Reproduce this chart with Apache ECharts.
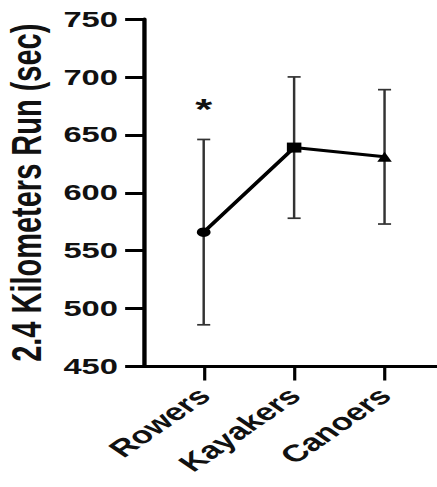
<!DOCTYPE html>
<html>
<head>
<meta charset="utf-8">
<script src="https://cdn.jsdelivr.net/npm/echarts@6/dist/echarts.min.js"></script>
<style>
  html, body { margin: 0; padding: 0; background: #fff; overflow: hidden; }
  /* chart is drawn narrow, then widened to the page width */
  #chart { width: 301px; height: 487px; transform: scaleX(1.4518); transform-origin: 0 0; }
</style>
</head>
<body>
<div id="chart"></div>
<script>
// Groups on the x axis
const groups = ['Rowers', 'Kayakers', 'Canoers'];
// Mean 2.4 km run time (s) per group
const meanTime = [566, 639, 631];
// Standard deviation (s) per group
const sdTime = [80, 61, 58];
// Marker shape per group
const markers = ['circle', 'rect', 'triangle'];
// Significance flag drawn above each error bar
const signif = ['*', '', ''];
// Y axis ticks
const yTicks = [450, 500, 550, 600, 650, 700, 750];

const FONT = '"Liberation Sans", Arial, sans-serif';
const chart = echarts.init(document.getElementById('chart'), null, { renderer: 'svg' });

const lineData = groups.map((g, i) => ({
  value: [i, meanTime[i]],
  symbol: markers[i],
  symbolSize: markers[i] === 'circle' ? 9.5 : 10
}));
const errData = groups.map((g, i) => [i, meanTime[i] - sdTime[i], meanTime[i] + sdTime[i], i]);

chart.setOption({
  animation: false,
  grid: {
    left: 99.2, right: 0, top: 19, bottom: 120.5,
    containLabel: false, outerBoundsMode: 'none'
  },
  xAxis: {
    type: 'value',
    min: -0.66,
    max: 2.58,
    splitLine: { show: false },
    axisLine: { show: true, onZero: false, lineStyle: { color: '#000', width: 3 } },
    axisTick: {
      show: true, length: 14, customValues: [0, 1, 2],
      lineStyle: { color: '#000', width: 2.2 }
    },
    axisLabel: {
      customValues: [0, 1, 2],
      rotate: 45,
      margin: 25,
      fontSize: 24,
      fontWeight: 'bold',
      fontFamily: FONT,
      color: '#111',
      formatter: v => groups[Math.round(v)]
    }
  },
  yAxis: {
    type: 'value',
    min: yTicks[0],
    max: yTicks[yTicks.length - 1],
    interval: 50,
    name: '2.4 Kilometers Run (sec)',
    nameLocation: 'middle',
    nameGap: 60,
    nameTextStyle: { fontSize: 29, fontWeight: 'bold', fontFamily: FONT, color: '#111' },
    splitLine: { show: false },
    axisLine: { show: true, onZero: false, lineStyle: { color: '#000', width: 3 } },
    axisTick: { show: true, length: 13, lineStyle: { color: '#000', width: 3 } },
    axisLabel: { margin: 18, fontSize: 22.5, fontWeight: 'bold', fontFamily: FONT, color: '#111' }
  },
  series: [
    {
      type: 'custom',
      z: 1,
      data: errData,
      encode: { x: 0, y: [1, 2] },
      renderItem: (params, api) => {
        const x = api.value(0);
        const lo = api.coord([x, api.value(1)]);
        const hi = api.coord([x, api.value(2)]);
        const cap = 4.5;
        const style = { stroke: '#333', lineWidth: 1.7 };
        const children = [
          { type: 'line', shape: { x1: lo[0], y1: lo[1], x2: hi[0], y2: hi[1] }, style },
          { type: 'line', shape: { x1: lo[0] - cap, y1: lo[1], x2: lo[0] + cap, y2: lo[1] }, style },
          { type: 'line', shape: { x1: hi[0] - cap, y1: hi[1], x2: hi[0] + cap, y2: hi[1] }, style }
        ];
        const mark = signif[api.value(3)];
        if (mark) {
          children.push({
            type: 'text',
            x: hi[0], y: hi[1] - 16,
            style: {
              text: mark, fill: '#111', fontSize: 30, fontWeight: 'bold', fontFamily: FONT,
              align: 'center', verticalAlign: 'bottom'
            }
          });
        }
        return { type: 'group', children };
      }
    },
    {
      type: 'line',
      z: 3,
      data: lineData,
      lineStyle: { color: '#000', width: 3 },
      itemStyle: { color: '#000' },
      showSymbol: true
    }
  ]
});
</script>
</body>
</html>
